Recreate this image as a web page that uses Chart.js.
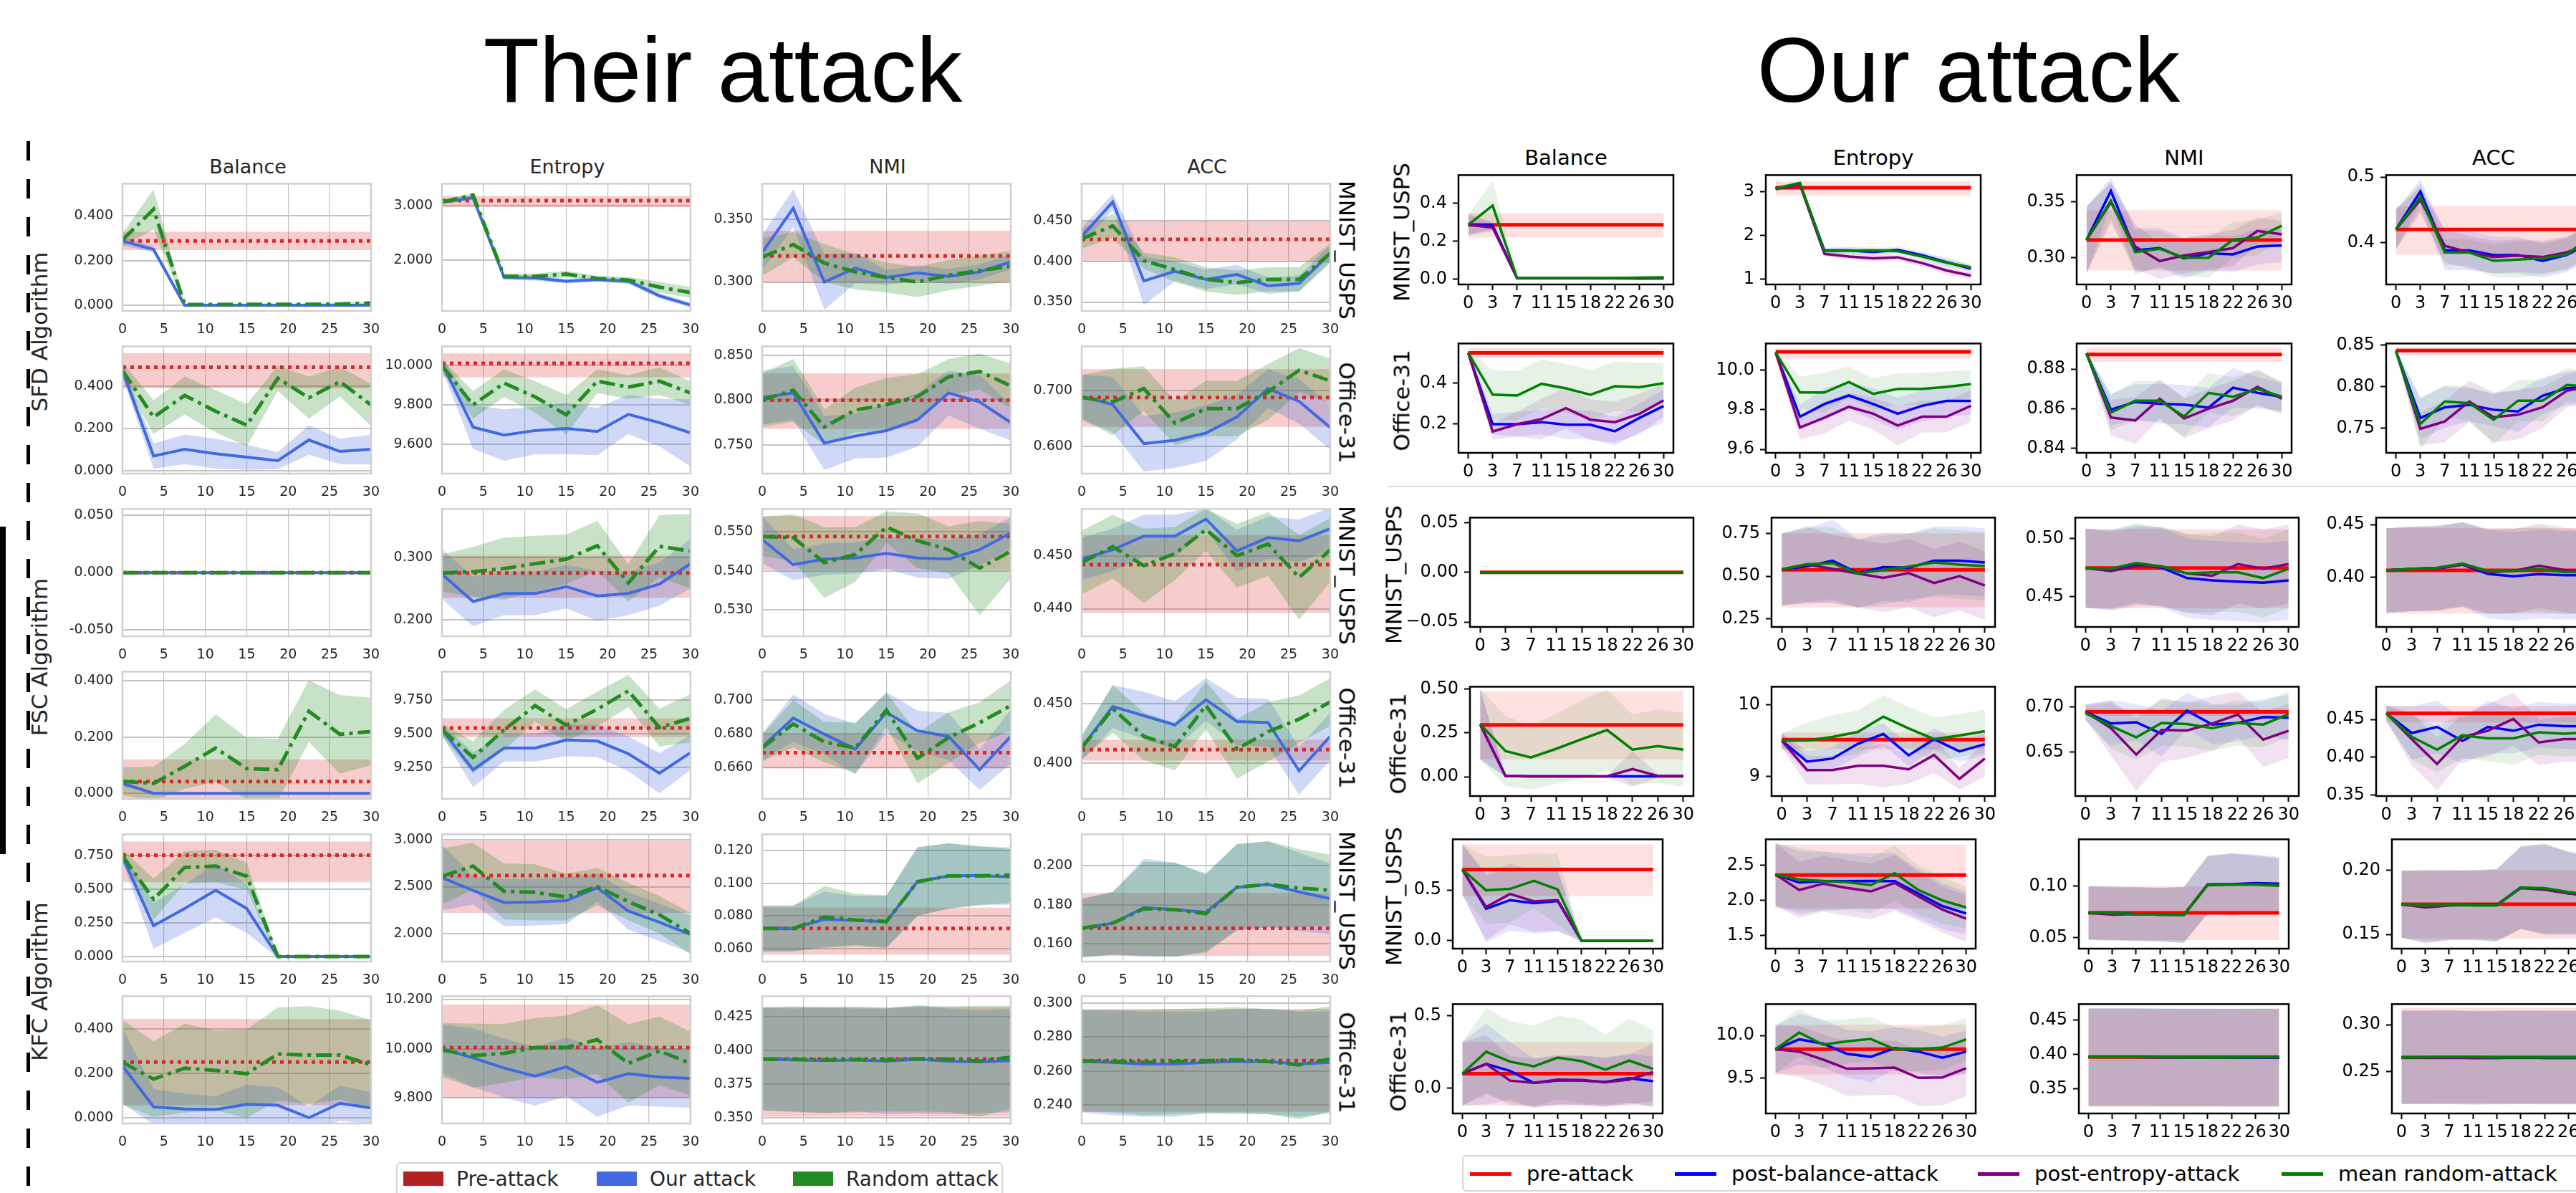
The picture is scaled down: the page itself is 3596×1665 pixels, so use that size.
<!DOCTYPE html>
<html>
<head>
<meta charset="utf-8">
<title>Their attack / Our attack</title>
<script src="https://cdn.jsdelivr.net/npm/chart.js@4.4.1/dist/chart.umd.min.js"></script>
<style>
  html, body { margin: 0; padding: 0; background: #fff; }
  #page { position: relative; width: 3596px; height: 1665px; overflow: hidden; background: #fff; font-family: "DejaVu Sans", sans-serif; }
  .abs { position: absolute; white-space: nowrap; line-height: 1; }
  .c { transform: translate(-50%, -50%); }
  .rl { transform: translate(-50%, -50%) rotate(-90deg); }
  .rr { transform: translate(-50%, -50%) rotate(90deg); }
  .vm { transform: translateY(-50%); }
  canvas { position: absolute; }
</style>
</head>
<body>
<div id="page"></div>
<script>
// x positions / labels
const xsTheir = [0, 3.75, 7.5, 11.25, 15, 18.75, 22.5, 26.25, 30];
const xTicksTheir = [0, 5, 10, 15, 20, 25, 30];
const xsOur = [0, 1, 2, 3, 4, 5, 6, 7, 8];
const xLabelsOur = ['0', '3', '7', '11', '15', '18', '22', '26', '30'];
const metricNames = ['Balance', 'Entropy', 'NMI', 'ACC'];
const algoNames = ['SFD Algorithm', 'FSC Algorithm', 'KFC Algorithm'];
const rowDatasets = ['MNIST_USPS', 'Office-31', 'MNIST_USPS', 'Office-31', 'MNIST_USPS', 'Office-31'];
const theirLegend = ['Pre-attack', 'Our attack', 'Random attack'];
const ourLegend = ['pre-attack', 'post-balance-attack', 'post-entropy-attack', 'mean random-attack'];

// ===== Their attack (pre = [mean, low, high]; our/rnd = mean, Sd = half band)
// SFD / MNIST_USPS
const tSfdMnBal = { ticks: ['0.000', '0.200', '0.400'], lim: [-0.026, 0.545], pre: [0.288, 0.247, 0.329],
  our:   [0.288, 0.250, 0.000, 0.000, 0.000, 0.000, 0.000, 0.000, 0.000],
  ourSd: [0.020, 0.015, 0.004, 0.004, 0.004, 0.004, 0.004, 0.004, 0.004],
  rnd:   [0.293, 0.430, 0.003, 0.003, 0.004, 0.004, 0.004, 0.005, 0.010],
  rndSd: [0.030, 0.090, 0.004, 0.004, 0.004, 0.004, 0.004, 0.005, 0.006] };
const tSfdMnEnt = { ticks: ['2.000', '3.000'], lim: [1.06, 3.41], pre: [3.097, 2.98, 3.18],
  our:   [3.07, 3.15, 1.68, 1.67, 1.61, 1.64, 1.61, 1.34, 1.17],
  ourSd: [0.04, 0.04, 0.04, 0.05, 0.04, 0.04, 0.05, 0.05, 0.05],
  rnd:   [3.07, 3.20, 1.70, 1.70, 1.74, 1.66, 1.63, 1.50, 1.40],
  rndSd: [0.04, 0.04, 0.05, 0.05, 0.06, 0.05, 0.06, 0.10, 0.10] };
const tSfdMnNmi = { ticks: ['0.300', '0.350'], lim: [0.277, 0.378], pre: [0.3207, 0.2996, 0.3405],
  our:   [0.3234, 0.3585, 0.300, 0.311, 0.3036, 0.3072, 0.3045, 0.308, 0.316],
  ourSd: [0.014, 0.015, 0.022, 0.012, 0.006, 0.006, 0.006, 0.006, 0.006],
  rnd:   [0.3198, 0.3297, 0.315, 0.308, 0.3036, 0.300, 0.3054, 0.309, 0.3126],
  rndSd: [0.015, 0.010, 0.015, 0.014, 0.012, 0.012, 0.012, 0.012, 0.012] };
const tSfdMnAcc = { ticks: ['0.350', '0.400', '0.450'], lim: [0.339, 0.496], pre: [0.4275, 0.4005, 0.45],
  our:   [0.431, 0.4735, 0.376, 0.388, 0.378, 0.384, 0.370, 0.373, 0.410],
  ourSd: [0.010, 0.010, 0.030, 0.012, 0.012, 0.012, 0.010, 0.010, 0.010],
  rnd:   [0.428, 0.444, 0.401, 0.390, 0.378, 0.374, 0.378, 0.378, 0.410],
  rndSd: [0.012, 0.015, 0.010, 0.015, 0.015, 0.015, 0.015, 0.015, 0.012] };
// SFD / Office-31
const tSfdOfBal = { ticks: ['0.000', '0.200', '0.400'], lim: [-0.015, 0.587], pre: [0.488, 0.389, 0.555],
  our:   [0.473, 0.068, 0.100, 0.079, 0.063, 0.046, 0.144, 0.090, 0.100],
  ourSd: [0.03, 0.06, 0.07, 0.07, 0.06, 0.04, 0.07, 0.06, 0.07],
  rnd:   [0.473, 0.252, 0.355, 0.280, 0.214, 0.436, 0.344, 0.420, 0.310],
  rndSd: [0.04, 0.08, 0.09, 0.10, 0.10, 0.06, 0.10, 0.07, 0.10] };
const tSfdOfEnt = { ticks: ['9.600', '9.800', '10.000'], lim: [9.452, 10.096], pre: [10.01, 9.94, 10.06],
  our:   [10.01, 9.687, 9.647, 9.670, 9.680, 9.665, 9.752, 9.710, 9.658],
  ourSd: [0.03, 0.11, 0.13, 0.12, 0.13, 0.12, 0.10, 0.12, 0.17],
  rnd:   [9.998, 9.80, 9.91, 9.84, 9.75, 9.92, 9.89, 9.92, 9.86],
  rndSd: [0.03, 0.07, 0.07, 0.08, 0.10, 0.06, 0.06, 0.07, 0.06] };
const tSfdOfNmi = { ticks: ['0.750', '0.800', '0.850'], lim: [0.718, 0.86], pre: [0.800, 0.768, 0.830],
  our:   [0.803, 0.808, 0.752, 0.760, 0.766, 0.778, 0.808, 0.798, 0.775],
  ourSd: [0.030, 0.030, 0.030, 0.025, 0.030, 0.030, 0.025, 0.030, 0.020],
  rnd:   [0.800, 0.811, 0.770, 0.789, 0.795, 0.804, 0.826, 0.832, 0.816],
  rndSd: [0.030, 0.035, 0.020, 0.025, 0.030, 0.025, 0.020, 0.020, 0.025] };
const tSfdOfAcc = { ticks: ['0.600', '0.700'], lim: [0.551, 0.78], pre: [0.688, 0.635, 0.739],
  our:   [0.690, 0.675, 0.605, 0.611, 0.624, 0.653, 0.704, 0.681, 0.634],
  ourSd: [0.04, 0.05, 0.05, 0.05, 0.05, 0.04, 0.035, 0.04, 0.04],
  rnd:   [0.688, 0.680, 0.704, 0.642, 0.668, 0.668, 0.698, 0.737, 0.718],
  rndSd: [0.04, 0.06, 0.04, 0.04, 0.05, 0.05, 0.05, 0.04, 0.04] };
// FSC / MNIST_USPS
const tFscMnBal = { ticks: ['-0.050', '0.000', '0.050'], lim: [-0.0555, 0.0555], pre: [0, 0, 0],
  our:   [0, 0, 0, 0, 0, 0, 0, 0, 0],
  ourSd: [0, 0, 0, 0, 0, 0, 0, 0, 0],
  rnd:   [0, 0, 0, 0, 0, 0, 0, 0, 0],
  rndSd: [0, 0, 0, 0, 0, 0, 0, 0, 0] };
const tFscMnEnt = { ticks: ['0.200', '0.300'], lim: [0.173, 0.378], pre: [0.275, 0.235, 0.303],
  our:   [0.273, 0.229, 0.242, 0.242, 0.253, 0.238, 0.242, 0.257, 0.290],
  ourSd: [0.040, 0.040, 0.035, 0.035, 0.035, 0.040, 0.035, 0.035, 0.040],
  rnd:   [0.275, 0.277, 0.282, 0.290, 0.297, 0.319, 0.259, 0.318, 0.310],
  rndSd: [0.030, 0.040, 0.050, 0.045, 0.040, 0.040, 0.030, 0.050, 0.060] };
const tFscMnNmi = { ticks: ['0.530', '0.540', '0.550'], lim: [0.5233, 0.5558], pre: [0.5488, 0.5403, 0.554],
  our:   [0.548, 0.5416, 0.543, 0.5433, 0.5445, 0.5433, 0.543, 0.5454, 0.5497],
  ourSd: [0.006, 0.004, 0.004, 0.004, 0.004, 0.005, 0.005, 0.004, 0.004],
  rnd:   [0.5488, 0.5485, 0.5421, 0.5442, 0.5512, 0.5477, 0.5454, 0.5407, 0.545],
  rndSd: [0.005, 0.006, 0.009, 0.007, 0.004, 0.007, 0.006, 0.012, 0.007] };
const tFscMnAcc = { ticks: ['0.440', '0.450'], lim: [0.4348, 0.4588], pre: [0.4483, 0.4392, 0.4539],
  our:   [0.4494, 0.4511, 0.4537, 0.4537, 0.4569, 0.4509, 0.4534, 0.4528, 0.4551],
  ourSd: [0.004, 0.004, 0.004, 0.004, 0.002, 0.004, 0.004, 0.004, 0.004],
  rnd:   [0.4487, 0.4517, 0.4481, 0.4504, 0.4549, 0.450, 0.4522, 0.4459, 0.4511],
  rndSd: [0.006, 0.006, 0.007, 0.005, 0.004, 0.006, 0.006, 0.008, 0.006] };
// FSC / Office-31
const tFscOfBal = { ticks: ['0.000', '0.200', '0.400'], lim: [-0.02, 0.433], pre: [0.0416, -0.02, 0.121],
  our:   [0.035, 0, 0, 0, 0, 0, 0, 0, 0],
  ourSd: [0.010, 0.003, 0.003, 0.003, 0.003, 0.003, 0.003, 0.003, 0.003],
  rnd:   [0.043, 0.035, 0.096, 0.161, 0.088, 0.084, 0.292, 0.210, 0.220],
  rndSd: [0.05, 0.06, 0.08, 0.12, 0.11, 0.11, 0.11, 0.14, 0.12] };
const tFscOfEnt = { ticks: ['9.250', '9.500', '9.750'], lim: [9.016, 9.963], pre: [9.544, 9.476, 9.616],
  our:   [9.530, 9.233, 9.395, 9.395, 9.454, 9.446, 9.352, 9.207, 9.360],
  ourSd: [0.04, 0.13, 0.10, 0.10, 0.12, 0.12, 0.13, 0.15, 0.13],
  rnd:   [9.530, 9.325, 9.530, 9.710, 9.564, 9.684, 9.820, 9.547, 9.616],
  rndSd: [0.05, 0.12, 0.15, 0.12, 0.12, 0.13, 0.12, 0.14, 0.18] };
const tFscOfNmi = { ticks: ['0.660', '0.680', '0.700'], lim: [0.6414, 0.7167], pre: [0.6688, 0.6594, 0.6797],
  our:   [0.6722, 0.6892, 0.6797, 0.6709, 0.6926, 0.6817, 0.6783, 0.6587, 0.6783],
  ourSd: [0.008, 0.014, 0.012, 0.015, 0.012, 0.012, 0.014, 0.012, 0.016],
  rnd:   [0.6716, 0.6858, 0.675, 0.6716, 0.694, 0.6655, 0.6777, 0.6865, 0.6966],
  rndSd: [0.008, 0.014, 0.012, 0.015, 0.010, 0.015, 0.015, 0.012, 0.015] };
const tFscOfAcc = { ticks: ['0.400', '0.450'], lim: [0.370, 0.477], pre: [0.4114, 0.4023, 0.4197],
  our:   [0.413, 0.4477, 0.440, 0.4322, 0.4535, 0.4351, 0.4342, 0.3936, 0.4226],
  ourSd: [0.010, 0.018, 0.020, 0.020, 0.018, 0.020, 0.020, 0.020, 0.020],
  rnd:   [0.413, 0.4458, 0.4226, 0.414, 0.4486, 0.412, 0.4265, 0.4371, 0.4515],
  rndSd: [0.010, 0.020, 0.020, 0.020, 0.020, 0.025, 0.025, 0.020, 0.020] };
// KFC / MNIST_USPS
const tKfcMnBal = { ticks: ['0.000', '0.250', '0.500', '0.750'], lim: [-0.037, 0.905], pre: [0.750, 0.550, 0.852],
  our:   [0.738, 0.228, 0.355, 0.490, 0.355, 0, 0, 0, 0],
  ourSd: [0.03, 0.17, 0.18, 0.20, 0.18, 0.01, 0.01, 0.01, 0.01],
  rnd:   [0.745, 0.425, 0.660, 0.670, 0.595, 0, 0, 0, 0],
  rndSd: [0.05, 0.15, 0.12, 0.12, 0.10, 0.01, 0.01, 0.01, 0.01] };
const tKfcMnEnt = { ticks: ['2.000', '2.500', '3.000'], lim: [1.7, 3.06], pre: [2.618, 2.22, 2.99],
  our:   [2.598, 2.46, 2.33, 2.335, 2.35, 2.49, 2.24, 2.12, 1.99],
  ourSd: [0.35, 0.15, 0.25, 0.25, 0.25, 0.15, 0.20, 0.20, 0.20],
  rnd:   [2.61, 2.72, 2.45, 2.44, 2.39, 2.50, 2.34, 2.20, 2.00],
  rndSd: [0.30, 0.25, 0.30, 0.30, 0.25, 0.20, 0.20, 0.20, 0.22] };
const tKfcMnNmi = { ticks: ['0.060', '0.080', '0.100', '0.120'], lim: [0.052, 0.13], pre: [0.0723, 0.0563, 0.085],
  our:   [0.0723, 0.0723, 0.0779, 0.0772, 0.0765, 0.101, 0.1045, 0.1048, 0.1038],
  ourSd: [0.014, 0.014, 0.017, 0.015, 0.016, 0.021, 0.020, 0.018, 0.017],
  rnd:   [0.0723, 0.0723, 0.0793, 0.0775, 0.0765, 0.101, 0.1045, 0.1045, 0.105],
  rndSd: [0.014, 0.014, 0.019, 0.016, 0.016, 0.021, 0.020, 0.018, 0.017] };
const tKfcMnAcc = { ticks: ['0.160', '0.180', '0.200'], lim: [0.151, 0.216], pre: [0.168, 0.1538, 0.186],
  our:   [0.168, 0.1706, 0.1785, 0.1775, 0.1762, 0.1889, 0.1904, 0.1866, 0.1831],
  ourSd: [0.015, 0.016, 0.025, 0.024, 0.020, 0.022, 0.022, 0.020, 0.018],
  rnd:   [0.168, 0.1706, 0.178, 0.1775, 0.1755, 0.189, 0.1905, 0.1885, 0.1875],
  rndSd: [0.015, 0.016, 0.024, 0.024, 0.020, 0.022, 0.022, 0.020, 0.018] };
// KFC / Office-31
const tKfcOfBal = { ticks: ['0.000', '0.200', '0.400'], lim: [-0.026, 0.547], pre: [0.251, 0.056, 0.444],
  our:   [0.234, 0.049, 0.039, 0.037, 0.060, 0.056, 0.000, 0.065, 0.044],
  ourSd: [0.17, 0.08, 0.07, 0.06, 0.09, 0.08, 0.05, 0.08, 0.07],
  rnd:   [0.249, 0.174, 0.223, 0.213, 0.198, 0.287, 0.282, 0.282, 0.239],
  rndSd: [0.19, 0.17, 0.20, 0.18, 0.20, 0.21, 0.22, 0.20, 0.20] };
const tKfcOfEnt = { ticks: ['9.800', '10.000', '10.200'], lim: [9.695, 10.214], pre: [10.005, 9.80, 10.18],
  our:   [10.000, 9.963, 9.921, 9.888, 9.926, 9.863, 9.898, 9.884, 9.879],
  ourSd: [0.10, 0.12, 0.12, 0.12, 0.12, 0.14, 0.13, 0.12, 0.12],
  rnd:   [9.995, 9.972, 9.981, 10.005, 10.005, 10.037, 9.940, 9.991, 9.940],
  rndSd: [0.11, 0.13, 0.12, 0.12, 0.13, 0.14, 0.16, 0.14, 0.13] };
const tKfcOfNmi = { ticks: ['0.350', '0.375', '0.400', '0.425'], lim: [0.346, 0.44], pre: [0.3936, 0.351, 0.432],
  our:   [0.3936, 0.393, 0.3925, 0.393, 0.392, 0.3935, 0.392, 0.3915, 0.3925],
  ourSd: [0.038, 0.038, 0.039, 0.038, 0.039, 0.040, 0.039, 0.038, 0.038],
  rnd:   [0.3936, 0.3935, 0.393, 0.3932, 0.393, 0.3938, 0.3935, 0.392, 0.395],
  rndSd: [0.038, 0.039, 0.039, 0.039, 0.038, 0.039, 0.039, 0.041, 0.038] };
const tKfcOfAcc = { ticks: ['0.240', '0.260', '0.280', '0.300'], lim: [0.229, 0.304], pre: [0.2661, 0.236, 0.2966],
  our:   [0.2655, 0.265, 0.264, 0.264, 0.265, 0.2655, 0.2655, 0.264, 0.265],
  ourSd: [0.030, 0.031, 0.031, 0.031, 0.030, 0.031, 0.031, 0.031, 0.030],
  rnd:   [0.266, 0.2655, 0.265, 0.2655, 0.266, 0.2665, 0.2655, 0.2635, 0.267],
  rndSd: [0.030, 0.030, 0.031, 0.031, 0.031, 0.031, 0.031, 0.032, 0.031] };

// ===== Our attack (bal = post-balance, ent = post-entropy, rnd = mean random)
// row 1 MNIST_USPS
const oR1Bal = { ticks: ['0.0', '0.2', '0.4'], lim: [-0.028, 0.549], pre: [0.287, 0.221, 0.348],
  bal:   [0.287, 0.283, 0.005, 0.005, 0.005, 0.005, 0.005, 0.003, 0.004],
  balSd: [0.05, 0.02, 0.003, 0.003, 0.003, 0.003, 0.003, 0.003, 0.003],
  ent:   [0.287, 0.273, 0.004, 0.004, 0.004, 0.004, 0.004, 0.005, 0.006],
  entSd: [0.06, 0.02, 0.003, 0.003, 0.003, 0.003, 0.003, 0.003, 0.003],
  rnd:   [0.287, 0.388, 0.005, 0.005, 0.005, 0.005, 0.006, 0.008, 0.010],
  rndSd: [0.05, 0.13, 0.004, 0.004, 0.004, 0.004, 0.004, 0.004, 0.004] };
const oR1Ent = { ticks: ['1', '2', '3'], lim: [0.88, 3.38], pre: [3.09, 2.91, 3.23],
  bal:   [3.07, 3.17, 1.66, 1.66, 1.62, 1.67, 1.55, 1.39, 1.24],
  balSd: [0.06, 0.05, 0.06, 0.08, 0.08, 0.07, 0.08, 0.10, 0.07],
  ent:   [3.07, 3.16, 1.58, 1.52, 1.48, 1.50, 1.37, 1.20, 1.08],
  entSd: [0.06, 0.05, 0.06, 0.07, 0.07, 0.07, 0.08, 0.09, 0.08],
  rnd:   [3.07, 3.20, 1.65, 1.65, 1.66, 1.64, 1.52, 1.38, 1.27],
  rndSd: [0.06, 0.05, 0.05, 0.07, 0.07, 0.06, 0.07, 0.08, 0.07] };
const oR1Nmi = { ticks: ['0.30', '0.35'], lim: [0.276, 0.374], pre: [0.3158, 0.2885, 0.3424],
  bal:   [0.3158, 0.3598, 0.3066, 0.3086, 0.2994, 0.304, 0.303, 0.310, 0.311],
  balSd: [0.030, 0.012, 0.020, 0.018, 0.018, 0.016, 0.016, 0.016, 0.015],
  ent:   [0.3158, 0.3496, 0.310, 0.297, 0.302, 0.305, 0.3086, 0.324, 0.321],
  entSd: [0.030, 0.018, 0.020, 0.016, 0.016, 0.016, 0.016, 0.012, 0.012],
  rnd:   [0.3158, 0.351, 0.305, 0.308, 0.300, 0.300, 0.316, 0.318, 0.3287],
  rndSd: [0.030, 0.016, 0.020, 0.016, 0.016, 0.018, 0.016, 0.016, 0.012] };
const oR1Acc = { ticks: ['0.4', '0.5'], lim: [0.336, 0.503], pre: [0.420, 0.3814, 0.4555],
  bal:   [0.420, 0.478, 0.388, 0.388, 0.381, 0.381, 0.372, 0.381, 0.402],
  balSd: [0.030, 0.018, 0.030, 0.030, 0.028, 0.028, 0.026, 0.026, 0.026],
  ent:   [0.420, 0.465, 0.395, 0.385, 0.378, 0.380, 0.378, 0.385, 0.400],
  entSd: [0.030, 0.020, 0.025, 0.025, 0.025, 0.025, 0.025, 0.025, 0.025],
  rnd:   [0.420, 0.470, 0.385, 0.385, 0.372, 0.374, 0.376, 0.382, 0.410],
  rndSd: [0.030, 0.020, 0.020, 0.020, 0.025, 0.028, 0.025, 0.025, 0.025] };
// row 2 Office-31
const oR2Bal = { ticks: ['0.2', '0.4'], lim: [0.06, 0.594], pre: [0.548, 0.523, 0.572],
  bal:   [0.548, 0.200, 0.200, 0.210, 0.197, 0.197, 0.165, 0.230, 0.289],
  balSd: [0.01, 0.05, 0.06, 0.06, 0.07, 0.07, 0.07, 0.07, 0.08],
  ent:   [0.548, 0.164, 0.200, 0.225, 0.278, 0.222, 0.210, 0.250, 0.316],
  entSd: [0.01, 0.04, 0.06, 0.10, 0.10, 0.10, 0.10, 0.10, 0.08],
  rnd:   [0.548, 0.344, 0.340, 0.397, 0.375, 0.344, 0.385, 0.380, 0.400],
  rndSd: [0.01, 0.12, 0.12, 0.12, 0.12, 0.12, 0.12, 0.12, 0.10] };
const oR2Ent = { ticks: ['9.6', '9.8', '10.0'], lim: [9.582, 10.135], pre: [10.093, 10.058, 10.11],
  bal:   [10.09, 9.765, 9.829, 9.872, 9.829, 9.780, 9.820, 9.845, 9.845],
  balSd: [0.01, 0.06, 0.08, 0.07, 0.08, 0.08, 0.08, 0.08, 0.07],
  ent:   [10.09, 9.710, 9.760, 9.815, 9.780, 9.720, 9.765, 9.765, 9.820],
  entSd: [0.01, 0.06, 0.08, 0.07, 0.08, 0.10, 0.08, 0.08, 0.08],
  rnd:   [10.09, 9.887, 9.887, 9.940, 9.880, 9.905, 9.905, 9.915, 9.930],
  rndSd: [0.01, 0.08, 0.10, 0.08, 0.08, 0.08, 0.08, 0.08, 0.07] };
const oR2Nmi = { ticks: ['0.84', '0.86', '0.88'], lim: [0.8376, 0.893], pre: [0.8874, 0.8837, 0.8909],
  bal:   [0.888, 0.8595, 0.8634, 0.8625, 0.862, 0.8605, 0.8706, 0.868, 0.866],
  balSd: [0.001, 0.008, 0.009, 0.010, 0.010, 0.010, 0.010, 0.008, 0.007],
  ent:   [0.888, 0.8555, 0.854, 0.865, 0.855, 0.860, 0.864, 0.871, 0.865],
  entSd: [0.001, 0.009, 0.012, 0.010, 0.010, 0.010, 0.010, 0.009, 0.008],
  rnd:   [0.888, 0.858, 0.864, 0.864, 0.856, 0.868, 0.866, 0.870, 0.866],
  rndSd: [0.001, 0.009, 0.010, 0.010, 0.010, 0.010, 0.010, 0.009, 0.008] };
const oR2Acc = { ticks: ['0.75', '0.80', '0.85'], lim: [0.72, 0.852], pre: [0.8434, 0.838, 0.848],
  bal:   [0.843, 0.762, 0.775, 0.778, 0.772, 0.770, 0.789, 0.798, 0.800],
  balSd: [0.002, 0.025, 0.025, 0.020, 0.020, 0.025, 0.022, 0.020, 0.020],
  ent:   [0.843, 0.749, 0.758, 0.782, 0.763, 0.766, 0.775, 0.795, 0.800],
  entSd: [0.002, 0.020, 0.025, 0.025, 0.030, 0.030, 0.025, 0.020, 0.020],
  rnd:   [0.843, 0.755, 0.782, 0.780, 0.760, 0.783, 0.783, 0.802, 0.800],
  rndSd: [0.002, 0.030, 0.020, 0.020, 0.030, 0.025, 0.025, 0.020, 0.020] };
// row 3 MNIST_USPS
const oR3Bal = { ticks: ['\u22120.05', '0.00', '0.05'], lim: [-0.055, 0.055], pre: [0, 0, 0],
  bal: [0, 0, 0, 0, 0, 0, 0, 0, 0], balSd: [0, 0, 0, 0, 0, 0, 0, 0, 0],
  ent: [0, 0, 0, 0, 0, 0, 0, 0, 0], entSd: [0, 0, 0, 0, 0, 0, 0, 0, 0],
  rnd: [0, 0, 0, 0, 0, 0, 0, 0, 0], rndSd: [0, 0, 0, 0, 0, 0, 0, 0, 0] };
const oR3Ent = { ticks: ['0.25', '0.50', '0.75'], lim: [0.203, 0.842], pre: [0.537, 0.318, 0.75],
  bal:   [0.539, 0.558, 0.590, 0.518, 0.553, 0.549, 0.590, 0.590, 0.580],
  balSd: [0.21, 0.22, 0.24, 0.20, 0.20, 0.20, 0.20, 0.20, 0.20],
  ent:   [0.539, 0.569, 0.542, 0.515, 0.490, 0.518, 0.460, 0.500, 0.445],
  entSd: [0.21, 0.22, 0.20, 0.20, 0.20, 0.20, 0.20, 0.20, 0.20],
  rnd:   [0.539, 0.569, 0.576, 0.515, 0.536, 0.556, 0.580, 0.567, 0.559],
  rndSd: [0.21, 0.22, 0.21, 0.20, 0.20, 0.19, 0.20, 0.20, 0.20] };
const oR3Nmi = { ticks: ['0.45', '0.50'], lim: [0.424, 0.518], pre: [0.4746, 0.44, 0.508],
  bal:   [0.4746, 0.473, 0.478, 0.475, 0.466, 0.464, 0.463, 0.462, 0.464],
  balSd: [0.034, 0.034, 0.034, 0.034, 0.034, 0.034, 0.034, 0.034, 0.034],
  ent:   [0.4746, 0.472, 0.476, 0.476, 0.470, 0.468, 0.478, 0.474, 0.478],
  entSd: [0.034, 0.034, 0.034, 0.034, 0.034, 0.034, 0.034, 0.034, 0.034],
  rnd:   [0.4746, 0.474, 0.479, 0.476, 0.470, 0.471, 0.471, 0.466, 0.474],
  rndSd: [0.034, 0.034, 0.034, 0.034, 0.034, 0.034, 0.034, 0.034, 0.034] };
const oR3Acc = { ticks: ['0.40', '0.45'], lim: [0.353, 0.4566], pre: [0.4066, 0.3656, 0.4467],
  bal:   [0.4066, 0.408, 0.409, 0.412, 0.4033, 0.401, 0.403, 0.402, 0.402],
  balSd: [0.040, 0.040, 0.040, 0.040, 0.042, 0.042, 0.042, 0.042, 0.042],
  ent:   [0.4066, 0.408, 0.408, 0.412, 0.405, 0.406, 0.411, 0.407, 0.405],
  entSd: [0.040, 0.040, 0.040, 0.040, 0.040, 0.040, 0.040, 0.040, 0.040],
  rnd:   [0.4066, 0.408, 0.409, 0.413, 0.406, 0.406, 0.408, 0.405, 0.405],
  rndSd: [0.040, 0.040, 0.040, 0.040, 0.040, 0.040, 0.040, 0.040, 0.040] };
// row 4 Office-31
const oR4Bal = { ticks: ['0.00', '0.25', '0.50'], lim: [-0.109, 0.513], pre: [0.296, 0.10, 0.487],
  bal:   [0.300, 0.005, 0.003, 0.003, 0.003, 0.003, 0.003, 0.003, 0.003],
  balSd: [0.20, 0.005, 0.005, 0.005, 0.005, 0.005, 0.005, 0.005, 0.005],
  ent:   [0.300, 0.005, 0.003, 0.003, 0.003, 0.003, 0.045, 0.005, 0.005],
  entSd: [0.20, 0.005, 0.005, 0.005, 0.005, 0.005, 0.10, 0.01, 0.01],
  rnd:   [0.300, 0.147, 0.110, 0.160, 0.215, 0.267, 0.155, 0.175, 0.155],
  rndSd: [0.20, 0.20, 0.18, 0.20, 0.22, 0.23, 0.20, 0.21, 0.21] };
const oR4Ent = { ticks: ['9', '10'], lim: [8.728, 10.25], pre: [9.513, 9.385, 9.61],
  bal:   [9.50, 9.208, 9.25, 9.455, 9.592, 9.295, 9.52, 9.35, 9.45],
  balSd: [0.10, 0.15, 0.15, 0.18, 0.15, 0.15, 0.15, 0.15, 0.15],
  ent:   [9.50, 9.09, 9.09, 9.15, 9.15, 9.10, 9.30, 8.968, 9.25],
  entSd: [0.10, 0.20, 0.20, 0.25, 0.30, 0.20, 0.25, 0.15, 0.25],
  rnd:   [9.50, 9.50, 9.55, 9.62, 9.833, 9.67, 9.52, 9.57, 9.63],
  rndSd: [0.10, 0.25, 0.30, 0.30, 0.30, 0.30, 0.30, 0.30, 0.30] };
const oR4Nmi = { ticks: ['0.65', '0.70'], lim: [0.602, 0.722], pre: [0.6944, 0.690, 0.698],
  bal:   [0.6944, 0.6817, 0.683, 0.6703, 0.6957, 0.6805, 0.6822, 0.6886, 0.6881],
  balSd: [0.008, 0.025, 0.020, 0.025, 0.020, 0.022, 0.020, 0.020, 0.025],
  ent:   [0.6944, 0.6766, 0.6475, 0.6746, 0.674, 0.6817, 0.6914, 0.664, 0.6736],
  entSd: [0.008, 0.030, 0.040, 0.035, 0.030, 0.030, 0.025, 0.030, 0.030],
  rnd:   [0.693, 0.679, 0.6665, 0.6822, 0.681, 0.6766, 0.6822, 0.6805, 0.692],
  rndSd: [0.008, 0.025, 0.025, 0.025, 0.025, 0.025, 0.025, 0.025, 0.025] };
const oR4Acc = { ticks: ['0.35', '0.40', '0.45'], lim: [0.3485, 0.4933], pre: [0.458, 0.446, 0.468],
  bal:   [0.458, 0.432, 0.440, 0.4216, 0.440, 0.435, 0.443, 0.441, 0.441],
  balSd: [0.010, 0.035, 0.035, 0.030, 0.035, 0.030, 0.030, 0.030, 0.030],
  ent:   [0.458, 0.424, 0.391, 0.427, 0.435, 0.4506, 0.4195, 0.424, 0.424],
  entSd: [0.010, 0.035, 0.035, 0.030, 0.035, 0.035, 0.030, 0.030, 0.030],
  rnd:   [0.458, 0.427, 0.410, 0.429, 0.425, 0.425, 0.433, 0.431, 0.433],
  rndSd: [0.010, 0.030, 0.030, 0.030, 0.030, 0.035, 0.030, 0.030, 0.030] };
// row 5 MNIST_USPS
const oR5Bal = { ticks: ['0.0', '0.5'], lim: [-0.078, 0.998], pre: [0.702, 0.44, 0.95],
  bal:   [0.702, 0.314, 0.400, 0.370, 0.390, 0, 0, 0, 0],
  balSd: [0.25, 0.33, 0.30, 0.30, 0.30, 0.005, 0.005, 0.005, 0.005],
  ent:   [0.702, 0.332, 0.460, 0.388, 0.400, 0, 0, 0, 0],
  entSd: [0.25, 0.33, 0.30, 0.30, 0.30, 0.005, 0.005, 0.005, 0.005],
  rnd:   [0.702, 0.496, 0.510, 0.590, 0.504, 0, 0, 0, 0],
  rndSd: [0.25, 0.33, 0.33, 0.27, 0.35, 0.005, 0.005, 0.005, 0.005] };
const oR5Ent = { ticks: ['1.5', '2.0', '2.5'], lim: [1.31, 2.875], pre: [2.363, 1.886, 2.80],
  bal:   [2.373, 2.255, 2.276, 2.276, 2.280, 2.276, 2.100, 1.920, 1.814],
  balSd: [0.45, 0.45, 0.42, 0.40, 0.40, 0.40, 0.35, 0.33, 0.30],
  ent:   [2.373, 2.150, 2.240, 2.180, 2.130, 2.250, 2.060, 1.870, 1.740],
  entSd: [0.45, 0.40, 0.40, 0.40, 0.40, 0.40, 0.35, 0.33, 0.33],
  rnd:   [2.373, 2.300, 2.280, 2.260, 2.220, 2.390, 2.150, 2.000, 1.900],
  rndSd: [0.45, 0.45, 0.42, 0.40, 0.40, 0.40, 0.35, 0.33, 0.30] };
const oR5Nmi = { ticks: ['0.05', '0.10'], lim: [0.0394, 0.1456], pre: [0.0742, 0.0478, 0.100],
  bal:   [0.0742, 0.074, 0.073, 0.0725, 0.0722, 0.1017, 0.102, 0.103, 0.1025],
  balSd: [0.026, 0.026, 0.026, 0.026, 0.027, 0.028, 0.030, 0.028, 0.026],
  ent:   [0.0742, 0.0725, 0.073, 0.0725, 0.0722, 0.1017, 0.102, 0.102, 0.1015],
  entSd: [0.026, 0.026, 0.026, 0.026, 0.027, 0.028, 0.030, 0.028, 0.026],
  rnd:   [0.0742, 0.074, 0.073, 0.0725, 0.0722, 0.101, 0.1015, 0.1015, 0.1005],
  rndSd: [0.026, 0.026, 0.026, 0.026, 0.027, 0.028, 0.030, 0.028, 0.026] };
const oR5Acc = { ticks: ['0.15', '0.20'], lim: [0.139, 0.224], pre: [0.1735, 0.147, 0.200],
  bal:   [0.1735, 0.172, 0.173, 0.173, 0.173, 0.1866, 0.185, 0.182, 0.180],
  balSd: [0.026, 0.028, 0.027, 0.027, 0.028, 0.032, 0.035, 0.032, 0.030],
  ent:   [0.1735, 0.171, 0.1725, 0.173, 0.173, 0.186, 0.185, 0.182, 0.180],
  entSd: [0.026, 0.028, 0.027, 0.027, 0.028, 0.032, 0.035, 0.032, 0.030],
  rnd:   [0.1735, 0.1725, 0.173, 0.1725, 0.1725, 0.1865, 0.186, 0.183, 0.181],
  rndSd: [0.026, 0.028, 0.027, 0.027, 0.028, 0.032, 0.035, 0.032, 0.030] };
// row 6 Office-31
const oR6Bal = { ticks: ['0.0', '0.5'], lim: [-0.175, 0.58], pre: [0.100, -0.119, 0.317],
  bal:   [0.100, 0.167, 0.119, 0.036, 0.052, 0.052, 0.043, 0.068, 0.048],
  balSd: [0.22, 0.28, 0.20, 0.17, 0.17, 0.17, 0.17, 0.17, 0.17],
  ent:   [0.100, 0.167, 0.052, 0.036, 0.059, 0.056, 0.040, 0.059, 0.111],
  entSd: [0.22, 0.20, 0.17, 0.17, 0.17, 0.17, 0.17, 0.17, 0.20],
  rnd:   [0.100, 0.251, 0.183, 0.151, 0.211, 0.186, 0.127, 0.190, 0.132],
  rndSd: [0.22, 0.30, 0.28, 0.28, 0.29, 0.29, 0.24, 0.29, 0.27] };
const oR6Ent = { ticks: ['9.5', '10.0'], lim: [9.08, 10.37], pre: [9.838, 9.54, 10.127],
  bal:   [9.838, 9.954, 9.905, 9.784, 9.749, 9.851, 9.810, 9.738, 9.810],
  balSd: [0.28, 0.30, 0.28, 0.28, 0.30, 0.25, 0.25, 0.25, 0.25],
  ent:   [9.838, 9.810, 9.716, 9.608, 9.613, 9.620, 9.500, 9.505, 9.613],
  entSd: [0.28, 0.30, 0.30, 0.32, 0.32, 0.32, 0.33, 0.33, 0.33],
  rnd:   [9.838, 10.035, 9.892, 9.932, 9.959, 9.838, 9.838, 9.857, 9.954],
  rndSd: [0.28, 0.28, 0.28, 0.26, 0.26, 0.26, 0.26, 0.26, 0.25] };
const oR6Nmi = { ticks: ['0.35', '0.40', '0.45'], lim: [0.314, 0.473], pre: [0.396, 0.324, 0.466],
  bal:   [0.396, 0.396, 0.396, 0.3955, 0.3955, 0.3955, 0.395, 0.395, 0.395],
  balSd: [0.071, 0.071, 0.071, 0.071, 0.071, 0.071, 0.071, 0.071, 0.071],
  ent:   [0.396, 0.396, 0.396, 0.3955, 0.3955, 0.3955, 0.3955, 0.3955, 0.3955],
  entSd: [0.071, 0.071, 0.071, 0.071, 0.071, 0.071, 0.071, 0.071, 0.071],
  rnd:   [0.396, 0.396, 0.396, 0.396, 0.3955, 0.3955, 0.3955, 0.3958, 0.396],
  rndSd: [0.071, 0.071, 0.071, 0.071, 0.071, 0.071, 0.071, 0.071, 0.071] };
const oR6Acc = { ticks: ['0.25', '0.30'], lim: [0.205, 0.322], pre: [0.265, 0.216, 0.318],
  bal:   [0.265, 0.265, 0.265, 0.2645, 0.2645, 0.265, 0.2645, 0.2645, 0.2645],
  balSd: [0.050, 0.050, 0.050, 0.050, 0.050, 0.050, 0.050, 0.050, 0.050],
  ent:   [0.265, 0.265, 0.265, 0.2645, 0.265, 0.265, 0.265, 0.265, 0.265],
  entSd: [0.050, 0.050, 0.050, 0.050, 0.050, 0.050, 0.050, 0.050, 0.050],
  rnd:   [0.265, 0.2652, 0.2655, 0.2655, 0.265, 0.265, 0.265, 0.265, 0.265],
  rndSd: [0.050, 0.050, 0.050, 0.050, 0.050, 0.050, 0.050, 0.050, 0.050] };

const theirGrid = [
  [tSfdMnBal, tSfdMnEnt, tSfdMnNmi, tSfdMnAcc],
  [tSfdOfBal, tSfdOfEnt, tSfdOfNmi, tSfdOfAcc],
  [tFscMnBal, tFscMnEnt, tFscMnNmi, tFscMnAcc],
  [tFscOfBal, tFscOfEnt, tFscOfNmi, tFscOfAcc],
  [tKfcMnBal, tKfcMnEnt, tKfcMnNmi, tKfcMnAcc],
  [tKfcOfBal, tKfcOfEnt, tKfcOfNmi, tKfcOfAcc]
];
const ourGrid = [
  [oR1Bal, oR1Ent, oR1Nmi, oR1Acc],
  [oR2Bal, oR2Ent, oR2Nmi, oR2Acc],
  [oR3Bal, oR3Ent, oR3Nmi, oR3Acc],
  [oR4Bal, oR4Ent, oR4Nmi, oR4Acc],
  [oR5Bal, oR5Ent, oR5Nmi, oR5Acc],
  [oR6Bal, oR6Ent, oR6Nmi, oR6Acc]
];

// ---- layout of the plot frames (page pixels)
const theirCols = [171, 617, 1064, 1510];
const theirRows = [256, 483, 710, 937, 1164, 1390];
const theirW = 350, theirH = 186;
const ourRows = [244, 479, 722, 958, 1171, 1401];
const ourCols = [
  [2036, 2465, 2899, 3331], [2036, 2465, 2899, 3331],
  [2052, 2473, 2897, 3317], [2052, 2473, 2897, 3317],
  [2028, 2465, 2902, 3339], [2028, 2465, 2902, 3339]
];
const ourW = [300, 300, 312, 312, 293, 293];
const ourH = 159;

const FONT = '"DejaVu Sans", sans-serif';
Chart.defaults.font.family = FONT;

const page = document.getElementById('page');

function addText(txt, x, y, size, cls, color, family) {
  const d = document.createElement('div');
  d.className = 'abs ' + cls;
  d.textContent = txt;
  d.style.left = x + 'px';
  d.style.top = y + 'px';
  d.style.fontSize = size + 'px';
  d.style.color = color || '#000';
  if (family) d.style.fontFamily = family;
  page.appendChild(d);
  return d;
}
function addBox(x, y, w, h, css) {
  const d = document.createElement('div');
  d.className = 'abs';
  d.style.left = x + 'px'; d.style.top = y + 'px';
  d.style.width = w + 'px'; d.style.height = h + 'px';
  Object.assign(d.style, css || {});
  page.appendChild(d);
  return d;
}

function framePlugin(color, width) {
  return {
    id: 'frame',
    afterDatasetsDraw(chart) {
      const a = chart.chartArea, ctx = chart.ctx;
      ctx.save();
      ctx.strokeStyle = color;
      ctx.lineWidth = width;
      ctx.strokeRect(a.left, a.top, a.right - a.left, a.bottom - a.top);
      ctx.restore();
    }
  };
}

function tickValues(labels) {
  return labels.map(s => parseFloat(s.replace('\u2212', '-')));
}

function meanLine(xs, ys, color, width, dash) {
  return { data: xs.map((x, i) => ({ x: x, y: ys[i] })), borderColor: color, borderWidth: width,
           borderDash: dash, fill: false, pointRadius: 0 };
}
function bandPair(xs, lo, hi, color) {
  return [
    { data: xs.map((x, i) => ({ x: x, y: lo[i] })), borderColor: 'rgba(0,0,0,0)', borderWidth: 0, pointRadius: 0, fill: false },
    { data: xs.map((x, i) => ({ x: x, y: hi[i] })), borderColor: 'rgba(0,0,0,0)', borderWidth: 0, pointRadius: 0, fill: '-1', backgroundColor: color }
  ];
}
function sdBand(xs, ys, sd, color) {
  return bandPair(xs, ys.map((v, i) => v - sd[i]), ys.map((v, i) => v + sd[i]), color);
}
function preLine(xs, pre, color, width, dash) {
  const ends = [xs[0], xs[xs.length - 1]];
  return meanLine(ends, [pre[0], pre[0]], color, width, dash);
}
function preBand(xs, pre, color) {
  const ends = [xs[0], xs[xs.length - 1]];
  return bandPair(ends, [pre[1], pre[1]], [pre[2], pre[2]], color);
}

function mountChart(fx, fy, w, h, pad, config) {
  const cv = document.createElement('canvas');
  cv.width = w + pad.l + pad.r;
  cv.height = h + pad.t + pad.b;
  page.appendChild(cv);
  const ch = new Chart(cv, config);
  const a = ch.chartArea;
  cv.style.left = (fx - a.left) + 'px';
  cv.style.top = (fy - a.top) + 'px';
  return ch;
}

// ---------- Their attack panel
function theirChart(d, fx, fy) {
  const pad = { l: 100, r: 24, t: 16, b: 50 };
  const yv = tickValues(d.ticks);
  const datasets = [
    meanLine(xsTheir, d.rnd, '#228b22', 5, [22, 7, 5, 7]),
    meanLine(xsTheir, d.our, '#4169e1', 4, []),
    preLine(xsTheir, d.pre, '#d42a2a', 5, [5, 6]),
    ...sdBand(xsTheir, d.rnd, d.rndSd, 'rgba(34,139,34,0.25)'),
    ...sdBand(xsTheir, d.our, d.ourSd, 'rgba(65,105,225,0.25)'),
    ...preBand(xsTheir, d.pre, 'rgba(220,50,50,0.25)')
  ];
  return mountChart(fx, fy, theirW, theirH, pad, {
    type: 'line',
    data: { datasets: datasets },
    options: {
      responsive: false, animation: false, devicePixelRatio: 1,
      layout: { padding: { left: 0, right: pad.r, top: pad.t, bottom: 0 } },
      plugins: { legend: { display: false }, tooltip: { enabled: false }, filler: { propagate: false } },
      elements: { point: { radius: 0 }, line: { tension: 0 } },
      scales: {
        x: {
          type: 'linear', min: 0, max: 30,
          afterBuildTicks: s => { s.ticks = xTicksTheir.map(v => ({ value: v })); },
          afterFit: s => { s.height = pad.b; },
          grid: { color: '#c4c4c4', lineWidth: 1.2, drawTicks: false },
          border: { display: false },
          ticks: { font: { size: 19 }, color: '#262626', padding: 15, maxRotation: 0, autoSkip: false }
        },
        y: {
          type: 'linear', min: d.lim[0], max: d.lim[1],
          afterBuildTicks: s => { s.ticks = yv.map(v => ({ value: v })); },
          afterFit: s => { s.width = pad.l; },
          grid: { color: '#c4c4c4', lineWidth: 2, drawTicks: false },
          border: { display: false },
          ticks: { font: { size: 19 }, color: '#262626', padding: 13, autoSkip: false,
                   callback: (v, i) => d.ticks[i] }
        }
      }
    },
    plugins: [framePlugin('#cfcfcf', 2.5)]
  });
}

// ---------- Our attack panel
function ourChart(d, fx, fy, w) {
  const pad = { l: 90, r: 28, t: 16, b: 50 };
  const yv = tickValues(d.ticks);
  const axisGrid = { display: true, drawOnChartArea: false, drawTicks: true, tickLength: 8, tickWidth: 2, tickColor: '#000' };
  const datasets = [
    meanLine(xsOur, d.rnd, '#008000', 3.5, []),
    meanLine(xsOur, d.ent, '#800080', 3.5, []),
    meanLine(xsOur, d.bal, '#0000ff', 3.5, []),
    preLine(xsOur, d.pre, '#ff0000', 5, []),
    ...sdBand(xsOur, d.rnd, d.rndSd, 'rgba(0,128,0,0.10)'),
    ...sdBand(xsOur, d.ent, d.entSd, 'rgba(128,0,128,0.12)'),
    ...sdBand(xsOur, d.bal, d.balSd, 'rgba(0,0,255,0.10)'),
    ...preBand(xsOur, d.pre, 'rgba(255,0,0,0.12)')
  ];
  return mountChart(fx, fy, w, ourH, pad, {
    type: 'line',
    data: { datasets: datasets },
    options: {
      responsive: false, animation: false, devicePixelRatio: 1,
      layout: { padding: { left: 0, right: pad.r, top: pad.t, bottom: 0 } },
      plugins: { legend: { display: false }, tooltip: { enabled: false }, filler: { propagate: false } },
      elements: { point: { radius: 0 }, line: { tension: 0 } },
      scales: {
        x: {
          type: 'linear', min: -0.4, max: 8.4,
          afterBuildTicks: s => { s.ticks = xsOur.map(v => ({ value: v })); },
          afterFit: s => { s.height = pad.b; },
          grid: axisGrid,
          border: { display: false },
          ticks: { font: { size: 24 }, color: '#000', padding: 4, maxRotation: 0, autoSkip: false,
                   callback: (v, i) => xLabelsOur[i] }
        },
        y: {
          type: 'linear', min: d.lim[0], max: d.lim[1],
          afterBuildTicks: s => { s.ticks = yv.map(v => ({ value: v })); },
          afterFit: s => { s.width = pad.l; },
          grid: axisGrid,
          border: { display: false },
          ticks: { font: { size: 24 }, color: '#000', padding: 8, autoSkip: false,
                   callback: (v, i) => d.ticks[i] }
        }
      }
    },
    plugins: [framePlugin('#000', 2.5)]
  });
}

// ---------- build page
addText('Their attack', 1009, 98, 128, 'c', '#000', '"Liberation Sans", Arial, sans-serif');
addText('Our attack', 2748, 98, 128, 'c', '#000', '"Liberation Sans", Arial, sans-serif');

// left dashed marker and solid bar
addBox(37, 197, 5, 1468, { background: 'repeating-linear-gradient(to bottom, #000 0px, #000 27px, transparent 27px, transparent 53px)' });
addBox(0, 735, 8, 457, { background: '#000' });

metricNames.forEach((m, c) => {
  addText(m, theirCols[c] + theirW / 2, 232, 27, 'c', '#262626');
  addText(m, ourCols[0][c] + ourW[0] / 2, 220, 29, 'c', '#000');
});
algoNames.forEach((a, k) => {
  const cy = (theirRows[2 * k] + theirRows[2 * k + 1] + theirH) / 2;
  addText(a, 55, cy, 31, 'rl', '#262626');
});

theirGrid.forEach((row, r) => {
  row.forEach((d, c) => theirChart(d, theirCols[c], theirRows[r]));
  addText(rowDatasets[r], 1880, theirRows[r] + theirH / 2, 31, 'rr', '#000');
});
ourGrid.forEach((row, r) => {
  row.forEach((d, c) => ourChart(d, ourCols[r][c], ourRows[r], ourW[r]));
  const lx = r < 2 ? 1957 : (r % 2 === 0 ? 1946 : 1952);
  addText(rowDatasets[r], lx, ourRows[r] + ourH / 2, 31, 'rl', '#000');
});

// separator in the right panel
addBox(1938, 678, 1658, 2, { background: '#dddddd' });

// legends
addBox(553, 1622, 847, 60, { border: '2px solid #d6d6d6', borderRadius: '6px', boxSizing: 'border-box', background: '#fff' });
const theirSw = [['#b22222', 563], ['#4169e1', 833], ['#228b22', 1107]];
theirLegend.forEach((t, i) => {
  addBox(theirSw[i][1], 1635, 56, 20, { background: theirSw[i][0] });
  addText(t, theirSw[i][1] + 74, 1646, 28, 'vm', '#262626');
});
addBox(2041, 1612, 1620, 51, { border: '2px solid #d6d6d6', borderRadius: '6px', boxSizing: 'border-box', background: '#fff' });
const ourSw = [['#ff0000', 2052], ['#0000ff', 2338], ['#800080', 2761], ['#008000', 3185]];
ourLegend.forEach((t, i) => {
  addBox(ourSw[i][1], 1636, 58, 5, { background: ourSw[i][0] });
  addText(t, ourSw[i][1] + 79, 1638, 29, 'vm', '#000');
});
</script>
</body>
</html>
